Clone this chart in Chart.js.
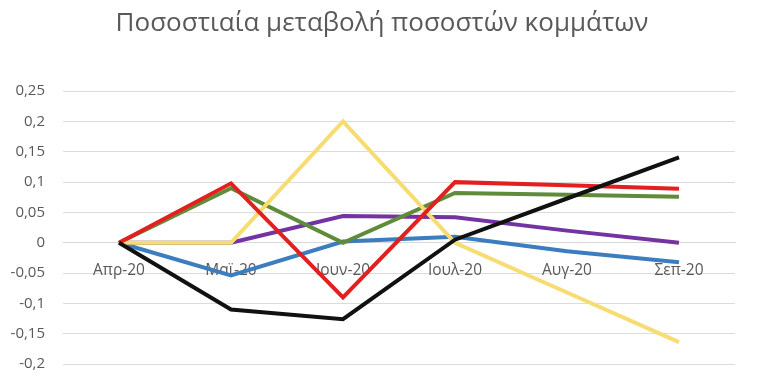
<!DOCTYPE html>
<html>
<head>
<meta charset="utf-8">
<script src="https://cdn.jsdelivr.net/npm/chart.js@4.4.1/dist/chart.umd.min.js"></script>
<style>
  html, body { margin: 0; padding: 0; background: #fff; }
  #wrap { width: 764px; height: 391px; }
</style>
</head>
<body>
<div id="wrap"><canvas id="grafico"></canvas></div>
<script>
let titulo = "Ποσοστιαία μεταβολή ποσοστών κομμάτων";
let meses = ["Απρ-20", "Μαϊ-20", "Ιουν-20", "Ιουλ-20", "Αυγ-20", "Σεπ-20"];

let serieAzul    = [0, -0.054, 0.002, 0.010, -0.014, -0.032];
let seriePurpura = [0, 0, 0.044, 0.042, 0.020, 0];
let serieVerde   = [0, 0.090, 0, 0.082, 0.079, 0.076];
let serieAmarela = [0, 0, 0.200, 0, -0.082, -0.164];
let serieVermelha= [0, 0.098, -0.090, 0.100, 0.095, 0.089];
let seriePreta   = [0, -0.110, -0.126, 0.005, 0.073, 0.141];

let cinza = '#595959';

let linha = (label, data, cor, ordem) => ({
  label: label,
  data: data,
  borderColor: cor,
  backgroundColor: cor,
  borderWidth: 4,
  pointRadius: 0,
  tension: 0,
  order: ordem
});

let ctx = document.getElementById('grafico').getContext('2d');

let meuGrafico = new Chart(ctx, {
  type: 'line',
  data: {
    labels: meses,
    datasets: [
      linha('Σειρά 1', serieAzul, '#3b7dbf', 6),
      linha('Σειρά 2', seriePurpura, '#7433a3', 5),
      linha('Σειρά 3', serieVerde, '#5e8c3b', 4),
      linha('Σειρά 4', serieAmarela, '#f7dc72', 3),
      linha('Σειρά 5', serieVermelha, '#e3201f', 2),
      linha('Σειρά 6', seriePreta, '#111111', 1)
    ]
  },
  options: {
    responsive: true,
    maintainAspectRatio: false,
    animation: false,
    layout: { padding: { top: 8, right: 0, bottom: 26, left: 0 } },
    plugins: {
      legend: { display: false },
      tooltip: { enabled: false },
      title: {
        display: true,
        text: titulo,
        color: cinza,
        font: { family: 'Open Sans', size: 26, weight: 'normal' },
        padding: { top: 0, bottom: 52 }
      }
    },
    scales: {
      x: {
        position: { y: 0 },
        offset: true,
        grid: { display: false, drawTicks: false },
        border: { display: true, color: '#d9d9d9', width: 1 },
        ticks: {
          color: cinza,
          font: { family: 'Open Sans', size: 15.5 },
          padding: 19,
          maxRotation: 0
        }
      },
      y: {
        min: -0.2,
        max: 0.25,
        grid: { color: '#dcdcdc', drawTicks: false },
        border: { display: false },
        ticks: {
          stepSize: 0.05,
          color: cinza,
          font: { family: 'Open Sans', size: 15 },
          padding: 18,
          callback: v => String(Math.round(v * 100) / 100).replace('.', ',')
        },
        afterFit: eixo => { eixo.width = 63; }
      },
      margemDireita: {
        type: 'linear',
        position: 'right',
        grid: { display: false, drawTicks: false },
        border: { display: false },
        ticks: { display: false },
        afterFit: eixo => { eixo.width = 29; }
      }
    }
  }
});
</script>
</body>
</html>
